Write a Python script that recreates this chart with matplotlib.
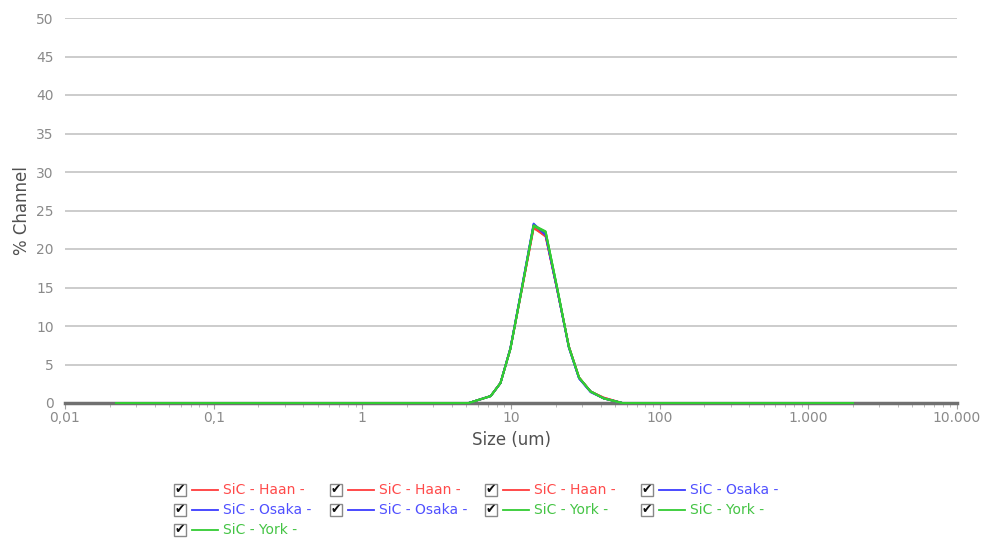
import matplotlib
matplotlib.use("Agg")
import matplotlib.pyplot as plt
from matplotlib.patches import Rectangle
from matplotlib.lines import Line2D

# particle size (um) and % channel for each run
sizes = [0.022, 0.1, 1.0, 5.2, 7.3, 8.5, 9.9, 11.9, 14.2, 17.1, 20.5, 24.5, 28.7, 34.3, 42.0, 56.0, 200.0, 2000.0]
haan_1 = [0, 0, 0, 0, 0.9, 2.6, 7.0, 15.0, 22.8, 21.6, 14.6, 7.3, 3.3, 1.5, 0.7, 0, 0, 0]
haan_2 = [0, 0, 0, 0, 0.9, 2.6, 7.1, 15.1, 22.9, 21.8, 14.7, 7.3, 3.3, 1.5, 0.7, 0, 0, 0]
haan_3 = [0, 0, 0, 0, 0.9, 2.6, 7.0, 15.0, 22.7, 21.7, 14.6, 7.4, 3.3, 1.5, 0.6, 0, 0, 0]
osaka_1 = [0, 0, 0, 0, 0.9, 2.6, 7.1, 15.3, 23.3, 21.8, 14.6, 7.2, 3.2, 1.5, 0.6, 0, 0, 0]
osaka_2 = [0, 0, 0, 0, 0.9, 2.6, 7.1, 15.2, 23.2, 21.9, 14.7, 7.2, 3.2, 1.5, 0.6, 0, 0, 0]
osaka_3 = [0, 0, 0, 0, 0.9, 2.6, 7.0, 15.2, 23.1, 22.0, 14.7, 7.3, 3.2, 1.4, 0.6, 0, 0, 0]
york_1 = [0, 0, 0, 0, 0.9, 2.6, 7.0, 15.1, 23.0, 22.2, 14.8, 7.3, 3.3, 1.5, 0.6, 0, 0, 0]
york_2 = [0, 0, 0, 0, 0.9, 2.6, 7.0, 15.1, 23.1, 22.3, 14.8, 7.3, 3.3, 1.5, 0.6, 0, 0, 0]
york_3 = [0, 0, 0, 0, 0.9, 2.6, 7.0, 15.1, 23.0, 22.2, 14.9, 7.3, 3.3, 1.5, 0.6, 0, 0, 0]

labels = ["SiC - Haan -", "SiC - Haan -", "SiC - Haan -", "SiC - Osaka -",
          "SiC - Osaka -", "SiC - Osaka -", "SiC - York -", "SiC - York -", "SiC - York -"]
series = [haan_1, haan_2, haan_3, osaka_1, osaka_2, osaka_3, york_1, york_2, york_3]

x_ticks = [0.01, 0.1, 1, 10, 100, 1000, 10000]
x_tick_labels = ["0,01", "0,1", "1", "10", "100", "1.000", "10.000"]
y_ticks = [0, 5, 10, 15, 20, 25, 30, 35, 40, 45, 50]

line_colors = ["#ff3b3b"] * 3 + ["#3b3bff"] * 3 + ["#33cc33"] * 3
text_colors = ["#ff4a4a"] * 3 + ["#5050ff"] * 3 + ["#44c444"] * 3

W, H = 983, 538
fig = plt.figure(figsize=(W / 100, H / 100), dpi=100)
ax = fig.add_axes([65 / W, 1 - 403 / H, (957 - 65) / W, (403 - 18) / H])

for y, c in zip(series, line_colors):
    ax.plot(sizes, y, color=c, lw=1.4, zorder=3, clip_on=False)

ax.set_xscale("log")
ax.set_xlim(0.01, 10000)
ax.set_ylim(0, 50)
ax.set_xticks(x_ticks)
ax.set_xticklabels(x_tick_labels)
ax.set_yticks(y_ticks)
ax.set_yticklabels([str(v) for v in y_ticks])

ax.grid(axis="y", color="#c4c4c4", lw=1.2)
ax.set_axisbelow(True)
for s in ["top", "right", "left"]:
    ax.spines[s].set_visible(False)
ax.spines["bottom"].set_color("#707070")
ax.spines["bottom"].set_linewidth(2.5)
ax.spines["bottom"].set_zorder(2)

ax.tick_params(axis="y", length=0, pad=8, labelsize=10, labelcolor="#8a8a8a")
ax.tick_params(axis="x", which="major", length=4, color="#a0a0a0", labelsize=10,
               labelcolor="#8a8a8a", pad=2)
ax.tick_params(axis="x", which="minor", length=3, color="#b0b0b0")

ax.set_xlabel("Size (um)", fontsize=12, color="#505050", labelpad=4)
ax.set_ylabel("% Channel", fontsize=12, color="#505050", labelpad=4)

# legend with checkboxes
col_x = [174, 330, 485, 641]
row_y = [490, 510, 530]
for i, (lab, lc, tc) in enumerate(zip(labels, line_colors, text_colors)):
    cx = col_x[i % 4]
    cy = row_y[i // 4]
    fig.patches.append(Rectangle((cx / W, 1 - (cy + 6) / H), 12 / W, 12 / H,
                                 transform=fig.transFigure, fc="white",
                                 ec="#888888", lw=1))
    fig.text((cx + 6) / W, 1 - cy / H, "\u2714", fontsize=9, color="#111111",
             ha="center", va="center", fontweight="bold")
    fig.lines.append(Line2D([(cx + 18) / W, (cx + 44) / W], [1 - cy / H, 1 - cy / H],
                            transform=fig.transFigure, color=lc, lw=1.3))
    fig.text((cx + 49) / W, 1 - cy / H, lab, fontsize=10, color=tc,
             ha="left", va="center")

fig.savefig("out.png", dpi=100)
